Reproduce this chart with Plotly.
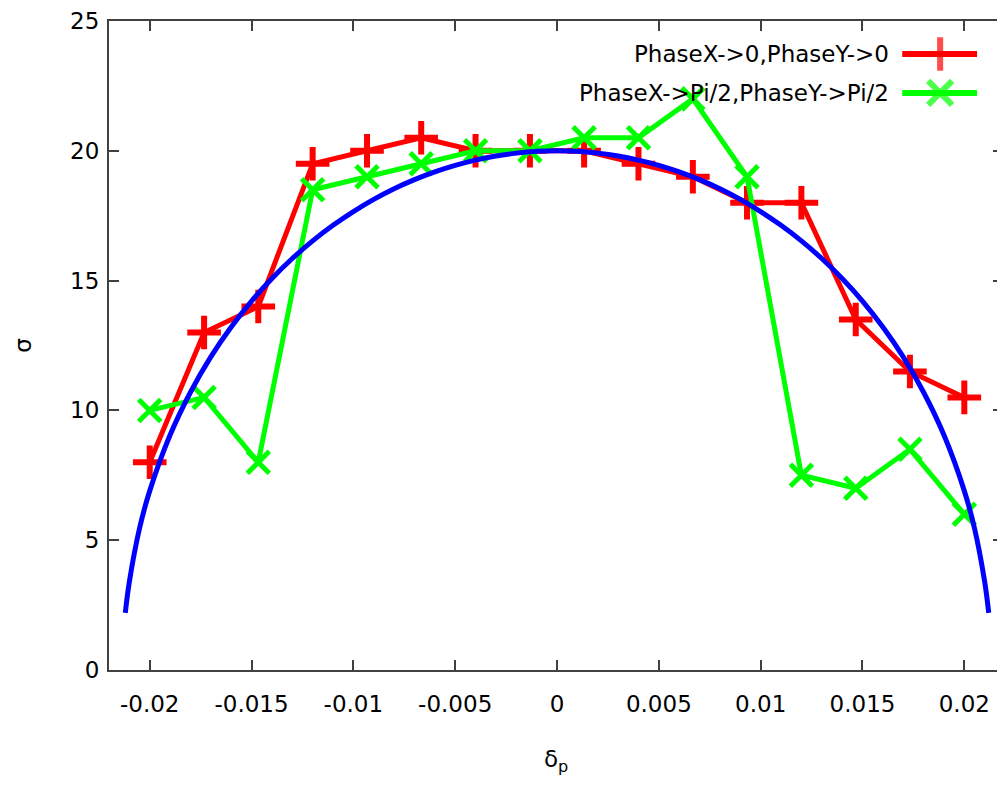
import plotly.graph_objects as go

# ---------------- data ----------------
delta_p = [-0.02, -0.01733, -0.01467, -0.012, -0.00933, -0.00667, -0.004, -0.00133,
           0.00133, 0.004, 0.00667, 0.00933, 0.012, 0.01467, 0.01733, 0.02]
sigma_phase0 = [8, 13, 14, 19.5, 20, 20.5, 20, 20,
                20, 19.5, 19, 18, 18, 13.5, 11.5, 10.5]
sigma_phasePi2 = [10, 10.5, 8, 18.5, 19, 19.5, 20, 20,
                  20.5, 20.5, 22, 19, 7.5, 7, 8.5, 6]

fit_x = [-0.0212, -0.021, -0.0205, -0.02, -0.019, -0.018, -0.017, -0.016, -0.015,
         -0.014, -0.013, -0.012, -0.011, -0.01, -0.009, -0.008, -0.007, -0.006,
         -0.005, -0.004, -0.003, -0.002, -0.001, 0.0,
         0.001, 0.002, 0.003, 0.004, 0.005, 0.006, 0.007, 0.008, 0.009, 0.01,
         0.011, 0.012, 0.013, 0.014, 0.015, 0.016, 0.017, 0.018, 0.019, 0.02,
         0.0205, 0.021, 0.0212]
fit_y = [2.2, 3.4, 5.46, 6.9, 9.05, 10.7, 12.06, 13.21, 14.21,
         15.08, 15.85, 16.53, 17.13, 17.66, 18.13, 18.54, 18.89, 19.19,
         19.44, 19.64, 19.8, 19.91, 19.98, 20.0,
         19.98, 19.91, 19.8, 19.64, 19.44, 19.19, 18.89, 18.54, 18.13, 17.66,
         17.13, 16.53, 15.85, 15.08, 14.21, 13.21, 12.06, 10.7, 9.05, 6.9,
         5.46, 3.4, 2.2]

series_names = ["PhaseX->0,PhaseY->0", "PhaseX->Pi/2,PhaseY->Pi/2"]
x_ticks = [-0.02, -0.015, -0.01, -0.005, 0, 0.005, 0.01, 0.015, 0.02]
x_tick_text = ["-0.02", "-0.015", "-0.01", "-0.005", "0", "0.005", "0.01", "0.015", "0.02"]
y_ticks = [0, 5, 10, 15, 20, 25]

# ---------------- style ----------------
FONT = "DejaVu Sans, sans-serif"
FS = 23
AX = "#404040"
RED, GREEN, BLUE = "#ff0000", "#00ff00", "#0000ff"

fig = go.Figure()
fig.add_trace(go.Scatter(
    x=delta_p, y=sigma_phase0, mode="lines+markers", name=series_names[0],
    line=dict(color=RED, width=5),
    marker=dict(symbol="cross-thin", size=24, line=dict(color=RED, width=6)),
    showlegend=False))
fig.add_trace(go.Scatter(
    x=delta_p, y=sigma_phasePi2, mode="lines+markers", name=series_names[1],
    line=dict(color=GREEN, width=5),
    marker=dict(symbol="x-thin", size=22, line=dict(color=GREEN, width=5)),
    showlegend=False))
fig.add_trace(go.Scatter(
    x=fit_x, y=fit_y, mode="lines", line=dict(color=BLUE, width=5, shape="spline"),
    showlegend=False))

# ---- gnuplot-style key: text right-aligned, sample on the right ----
# overlay axes in page-pixel units of the plot area (x: 109..1005, y: 20..670)
key_rows = [53, 92]
key_colors = [RED, GREEN]
key_symbols = ["cross-thin", "x-thin"]
for i in range(2):
    fig.add_trace(go.Scatter(
        x=[904, 942, 979], y=[key_rows[i]] * 3, mode="lines+markers",
        xaxis="x2", yaxis="y2",
        line=dict(color=key_colors[i], width=6),
        marker=dict(symbol=key_symbols[i], size=[0, 24, 0],
                    line=dict(color=key_colors[i], width=6)),
        showlegend=False, hoverinfo="skip"))
    fig.add_annotation(
        x=893, y=key_rows[i], xref="x2", yref="y2", text=series_names[i],
        showarrow=False, xanchor="right", yanchor="middle",
        font=dict(family=FONT, size=FS, color="black"))

fig.update_layout(
    width=997, height=778,
    margin=dict(l=101, r=0, t=12, b=116),
    paper_bgcolor="white", plot_bgcolor="white",
    font=dict(family=FONT, size=FS, color="black"),
    xaxis=dict(range=[-0.022, 0.0219], tickvals=x_ticks, ticktext=x_tick_text,
               ticks="inside", ticklen=10, tickwidth=1.5, tickcolor=AX,
               showline=True, linecolor=AX, linewidth=2, mirror="ticks",
               showgrid=False, zeroline=False, ticklabelstandoff=12,
               ticklabeloverflow="allow"),
    yaxis=dict(range=[0, 25], tickvals=y_ticks,
               ticks="inside", ticklen=10, tickwidth=1.5, tickcolor=AX,
               showline=True, linecolor=AX, linewidth=2, mirror="ticks",
               showgrid=False, zeroline=False, ticklabelstandoff=3,
               ticklabeloverflow="allow"),
    xaxis2=dict(overlaying="x", range=[109, 1005], visible=False, anchor="y2"),
    yaxis2=dict(overlaying="y", range=[670, 20], visible=False, anchor="x2"),
)

fig.add_annotation(x=-0.097, y=0.5, xref="paper", yref="paper", text="σ",
                   textangle=-90, showarrow=False,
                   xanchor="center", yanchor="middle",
                   font=dict(family=FONT, size=FS, color="black"))
fig.add_annotation(x=0.5, y=-0.14, xref="paper", yref="paper", text="δ<sub>p</sub>",
                   showarrow=False, xanchor="center", yanchor="middle",
                   font=dict(family=FONT, size=FS, color="black"))

fig.write_html("out.html")
